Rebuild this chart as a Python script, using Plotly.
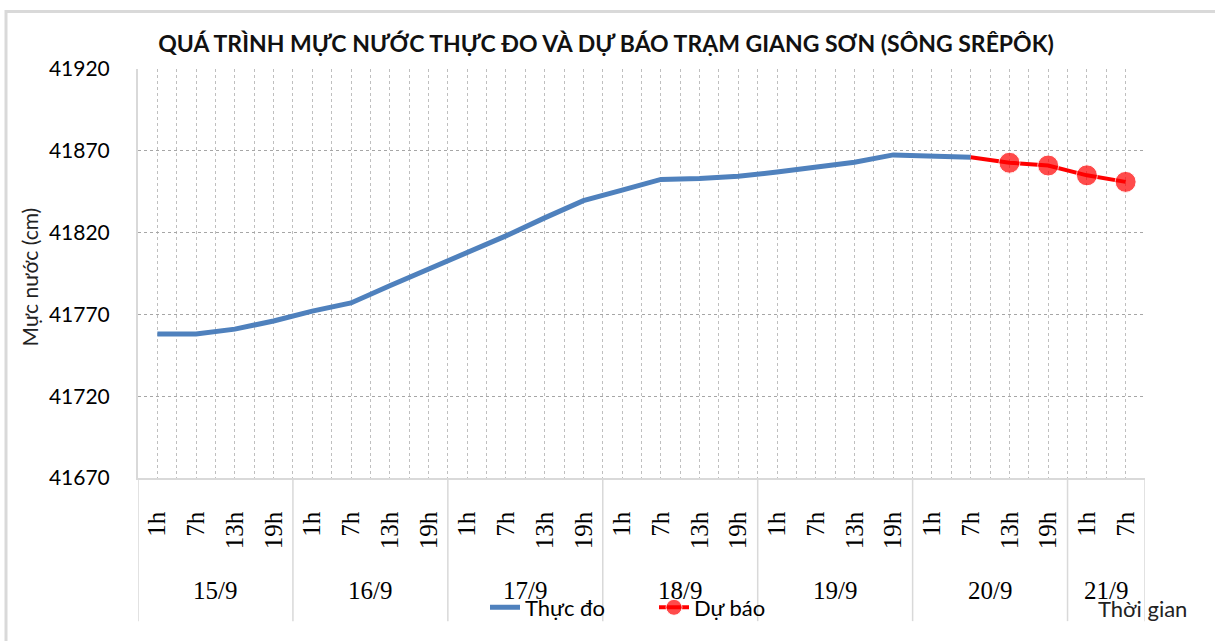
import plotly.graph_objects as go

days = ["15/9", "16/9", "17/9", "18/9", "19/9", "20/9", "21/9"]
hours = ["1h", "7h", "13h", "19h"] * 6 + ["1h", "7h"]

observed = [41758, 41758, 41761, 41766, 41772, 41777, 41787.5, 41797.5,
            41808, 41818, 41829, 41839.5, 41846, 41852.5, 41853, 41854.5,
            41857, 41860, 41863, 41867.5, 41867, 41866]
forecast_start = 21
forecast = [41866, 41862.7, 41861, 41855, 41851]

y_ticks = [41670, 41720, 41770, 41820, 41870, 41920]

FONT = "Lato"
W, H = 1215, 641
ml, mr, mt, mb = 138, 70, 69, 152
pw, ph = W - ml - mr, H - mt - mb

def px_x(p):
    return (p - ml) / pw

def px_y(p):
    return (H - mb - p) / ph

n = len(hours)
xs = list(range(n))

fig = go.Figure()
fig.add_trace(go.Scatter(
    x=xs[:len(observed)], y=observed, mode="lines", name="Thực đo",
    line=dict(color="#4F81BD", width=5),
))
fig.add_trace(go.Scatter(
    x=xs[forecast_start:forecast_start + len(forecast)], y=forecast,
    mode="lines+markers", name="Dự báo",
    line=dict(color="#FF0000", width=4),
    marker=dict(color="#FF0000", size=[0] + [21] * (len(forecast) - 1)),
))

# group separators and date labels
bounds = [-0.5] + [3.5 + 4 * i for i in range(6)] + [n - 0.5]
for b in bounds:
    fig.add_shape(type="line", xref="x", yref="paper", x0=b, x1=b,
                  y0=0, y1=px_y(636), line=dict(color="#D9D9D9", width=1.5))
for i, d in enumerate(days):
    lo, hi = bounds[i], bounds[i + 1]
    fig.add_annotation(x=(lo + hi) / 2, xref="x", y=px_y(605), yref="paper",
                       xanchor="center", yanchor="middle",
                       text=d, showarrow=False,
                       font=dict(family="Liberation Serif", size=25, color="#000"))

fig.add_annotation(x=px_x(29), y=px_y(283), xref="paper", yref="paper",
                   xanchor="center", yanchor="middle",
                   text="Mực nước (cm)", textangle=-90, showarrow=False,
                   font=dict(family=FONT, size=21, color="#222"))
fig.add_annotation(x=px_x(1142), y=px_y(623), xref="paper", yref="paper",
                   xanchor="center", yanchor="middle",
                   text="Thời gian", showarrow=False,
                   font=dict(family=FONT, size=22, color="#222"))

# outer frame
fig.add_shape(type="rect", xref="paper", yref="paper",
              x0=px_x(6), y0=px_y(800), x1=px_x(1400), y1=px_y(10),
              line=dict(color="#D9D9D9", width=3), layer="below")

fig.update_layout(
    width=W, height=H,
    margin=dict(l=ml, r=mr, t=mt, b=mb),
    paper_bgcolor="white", plot_bgcolor="white",
    title=dict(text="<b>QUÁ TRÌNH MỰC NƯỚC THỰC ĐO VÀ DỰ BÁO TRẠM GIANG SƠN (SÔNG SRÊPÔK)</b>",
               x=606 / W, xanchor="center",
               y=1 - 44 / H, yanchor="middle",
               font=dict(family=FONT, size=23, color="#111")),
    showlegend=True,
    legend=dict(orientation="h", x=px_x(485), xanchor="left",
                y=px_y(622), yanchor="middle",
                font=dict(family=FONT, size=22, color="#000"),
                bgcolor="rgba(0,0,0,0)", entrywidth=124, entrywidthmode="pixels"),
    xaxis=dict(
        range=[-0.5, n - 0.5], tickvals=xs, ticktext=hours, tickangle=-90,
        tickfont=dict(family="Liberation Serif", size=25, color="#000"),
        showgrid=True, gridcolor="#BFBFBF", griddash="dot", gridwidth=1,
        minor=dict(tickvals=[x + 0.5 for x in xs[:-1]], showgrid=True,
                   gridcolor="#BFBFBF", griddash="dot", gridwidth=1),
        showline=True, linecolor="#D9D9D9", linewidth=1.5,
        ticks="", ticklabelstandoff=22, zeroline=False, automargin=False,
    ),
    yaxis=dict(
        range=[41670, 41920], tickvals=y_ticks, ticktext=[str(v) for v in y_ticks],
        tickfont=dict(family=FONT, size=21, color="#000"),
        showgrid=True, gridcolor="#A6A6A6", griddash="dot", gridwidth=1,
        showline=True, linecolor="#D9D9D9", linewidth=2,
        ticks="", ticklabelstandoff=22, zeroline=False, automargin=False,
    ),
)

fig.write_html("out.html", config={"displayModeBar": False},
               post_script="document.body.style.margin='0';document.body.style.overflow='hidden';")
